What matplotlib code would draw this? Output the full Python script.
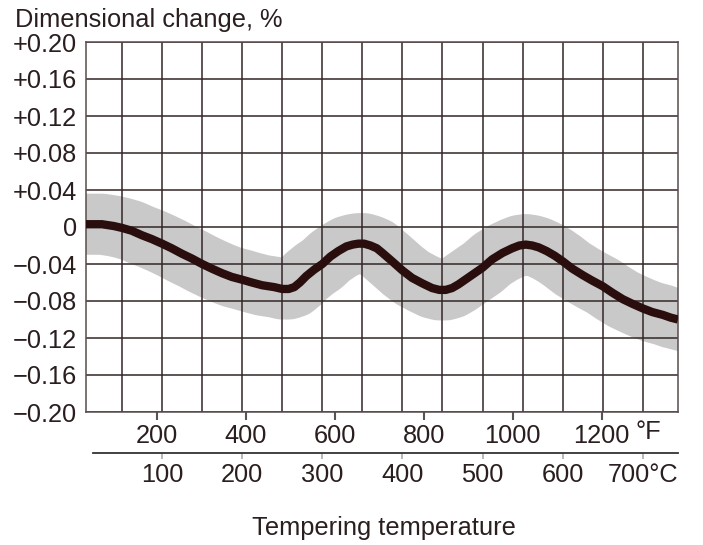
import matplotlib
matplotlib.use("Agg")
import matplotlib.pyplot as plt

plt.rcParams['font.family'] = ['Liberation Sans', 'DejaVu Sans']

# tempering temperature (deg C) and dimensional change (%)
temp_c = [5, 25, 40, 50, 62, 75, 87, 100, 112, 125, 137, 150, 162, 175, 187,
          200, 212, 225, 240, 250, 258, 265, 272, 280, 290, 300, 310, 320,
          330, 338, 345, 352, 360, 368, 375, 387, 400, 412, 425, 437, 446,
          454, 462, 470, 480, 490, 500, 512, 525, 537, 546, 554, 562, 570,
          580, 590, 600, 612, 625, 637, 650, 662, 675, 687, 700, 712, 725,
          735, 744]
change = [0.003, 0.003, 0.001, -0.001, -0.004, -0.009, -0.013, -0.018,
          -0.023, -0.029, -0.034, -0.040, -0.045, -0.050, -0.054, -0.057,
          -0.060, -0.063, -0.065, -0.067, -0.067, -0.065, -0.060, -0.053,
          -0.046, -0.040, -0.032, -0.026, -0.021, -0.019, -0.018, -0.018,
          -0.020, -0.023, -0.028, -0.037, -0.047, -0.055, -0.061, -0.066,
          -0.068, -0.068, -0.066, -0.062, -0.056, -0.050, -0.044, -0.035,
          -0.028, -0.023, -0.020, -0.019, -0.020, -0.022, -0.026, -0.031,
          -0.037, -0.045, -0.052, -0.058, -0.064, -0.071, -0.078, -0.083,
          -0.088, -0.092, -0.095, -0.098, -0.100]

y_ticks = [0.20, 0.16, 0.12, 0.08, 0.04, 0.0, -0.04, -0.08, -0.12, -0.16, -0.20]
y_labels = ['+0.20', '+0.16', '+0.12', '+0.08', '+0.04', '0',
            '\u22120.04', '\u22120.08', '\u22120.12', '\u22120.16', '\u22120.20']
f_ticks = [200, 400, 600, 800, 1000, 1200]
c_ticks = [100, 200, 300, 400, 500, 600, 700]
c_labels = ['100', '200', '300', '400', '500', '600', '700\u00b0C']
grid_c = [50, 100, 150, 200, 250, 300, 350, 400, 450, 500, 550, 600, 650, 700]

TXT = '#2a1e1e'
GRID = '#342626'
FS = 18.3

W, H = 703, 545
fig = plt.figure(figsize=(W / 100, H / 100), dpi=100)
ax = fig.add_axes([86 / W, 1 - 412 / H, (678 - 86) / W, (412 - 42) / H])
ax.set_xlim(5, 744)
ax.set_ylim(-0.2, 0.2)

# scatter band and mean curve
ax.plot(temp_c, change, color='#c9c9c9', lw=44, solid_capstyle='projecting',
        solid_joinstyle='round', zorder=1)
ax.vlines(grid_c, -0.2, 0.2, color=GRID, lw=1.1, zorder=1.6)
ax.plot(temp_c, change, color='#2a0e0e', lw=6, solid_capstyle='butt',
        solid_joinstyle='round', zorder=3)

ax.set_yticks(y_ticks)
ax.set_yticklabels(y_labels)
ax.yaxis.grid(True, color=GRID, lw=1.1)
ax.tick_params(axis='y', length=0, pad=6.5, labelsize=FS, labelcolor=TXT)

# deg F ticks on the plot frame
ax.set_xticks([(f - 32) / 1.8 for f in f_ticks])
ax.set_xticklabels([str(f) for f in f_ticks])
ax.tick_params(axis='x', length=5.8, width=1.5, color='#555555', pad=2.5,
               labelsize=FS, labelcolor=TXT)
for sp in ax.spines.values():
    sp.set_color('#5a4c4c')
    sp.set_linewidth(1.1)

# deg C scale below
ax2 = ax.twiny()
ax2.set_xlim(ax.get_xlim())
ax2.xaxis.set_ticks_position('bottom')
ax2.spines['bottom'].set_position(('outward', 29.5))
ax2.spines['bottom'].set_bounds(14, 744)
ax2.spines['bottom'].set_color('#333333')
ax2.spines['bottom'].set_linewidth(1.3)
for s in ['top', 'left', 'right']:
    ax2.spines[s].set_visible(False)
ax2.set_xticks(c_ticks)
ax2.set_xticklabels(c_labels)
ax2.tick_params(axis='x', length=4, width=1.2, color='#aaaaaa', pad=3.0,
                labelsize=FS, labelcolor=TXT)

fig.text(648 / W, 1 - 432 / H, '\u00b0F', ha='center', va='center',
         fontsize=FS, color=TXT)
fig.text(15 / W, 1 - 20 / H, 'Dimensional change, %', ha='left', va='center',
         fontsize=FS, color=TXT)
fig.text(384 / W, 1 - 528 / H, 'Tempering temperature', ha='center',
         va='center', fontsize=FS, color=TXT)

fig.savefig('out.png', dpi=100)
